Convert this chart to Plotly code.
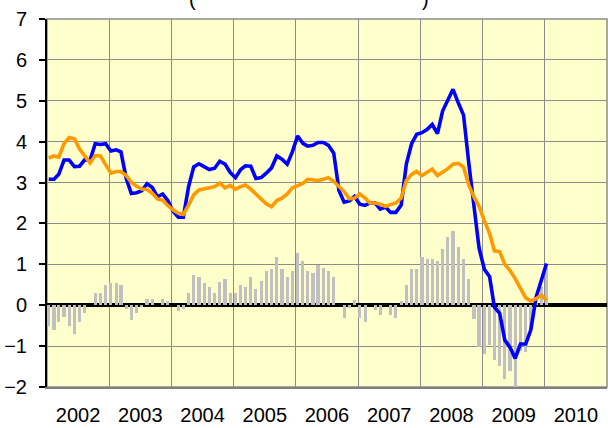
import pandas as pd
import plotly.graph_objects as go

# monthly observations, Jan 2002 .. Jan 2010
months = pd.date_range("2002-01-01", "2010-01-01", freq="MS") + pd.Timedelta(days=10)

blue_series = [
    3.08, 3.08, 3.2, 3.55, 3.55, 3.39, 3.4, 3.56, 3.55, 3.95, 3.93, 3.95,
    3.77, 3.8, 3.75, 3.1, 2.73, 2.75, 2.8, 2.97, 2.88, 2.65, 2.72, 2.56,
    2.3, 2.15, 2.15, 2.9, 3.38, 3.46, 3.39, 3.32, 3.35, 3.52, 3.45, 3.25,
    3.12, 3.32, 3.41, 3.4, 3.1, 3.12, 3.23, 3.36, 3.65, 3.57, 3.45, 3.75,
    4.14, 3.96, 3.89, 3.91, 3.98, 3.98, 3.91, 3.72, 2.8, 2.52, 2.55, 2.66,
    2.47, 2.44, 2.5, 2.5, 2.35, 2.4, 2.27, 2.27, 2.45, 3.45, 3.95, 4.18,
    4.22, 4.3, 4.42, 4.2, 4.75, 5.0, 5.28, 4.95, 4.65, 3.5, 2.4, 1.4,
    0.88, 0.7, -0.05, -0.2, -0.85, -1.03, -1.3, -0.95, -0.95, -0.6, 0.2, 0.62,
    1.02,
]

orange_series = [
    3.6, 3.65, 3.62, 3.95, 4.1, 4.07, 3.82, 3.65, 3.48, 3.66, 3.65, 3.44,
    3.23, 3.27, 3.27, 3.17, 3.01, 2.91, 2.84, 2.83, 2.74, 2.6, 2.57, 2.44,
    2.33, 2.25, 2.22, 2.45, 2.7, 2.82, 2.85, 2.87, 2.9, 2.99, 2.87, 2.93,
    2.84, 2.9, 2.94, 2.84, 2.73, 2.6, 2.48, 2.41, 2.56, 2.62, 2.72, 2.87,
    2.92, 2.98, 3.08, 3.06, 3.05, 3.08, 3.12, 3.03, 2.9, 2.78, 2.6, 2.62,
    2.72, 2.62, 2.5, 2.5, 2.47, 2.42, 2.46, 2.5, 2.62, 3.05, 3.2, 3.27,
    3.17, 3.25, 3.33, 3.17, 3.25, 3.34, 3.45, 3.47, 3.38, 2.95, 2.65, 2.42,
    2.07, 1.75, 1.33, 1.31, 1.0, 0.85, 0.65, 0.4, 0.18, 0.1, 0.16, 0.25,
    0.12,
]

gap_bars = [
    -0.5, -0.6, -0.4, -0.3, -0.5, -0.7, -0.4, -0.2, 0.0, 0.3, 0.3, 0.5,
    0.55, 0.55, 0.5, -0.1, -0.35, -0.2, -0.05, 0.15, 0.15, 0.0, 0.15, 0.1,
    0.0, -0.15, -0.1, 0.3, 0.73, 0.69, 0.55, 0.45, 0.3, 0.57, 0.63, 0.3,
    0.3, 0.49, 0.45, 0.69, 0.39, 0.59, 0.83, 0.88, 1.18, 0.88, 0.69, 0.83,
    1.28, 1.08, 0.83, 0.79, 0.98, 0.92, 0.83, 0.69, 0.0, -0.31, -0.06, 0.14,
    -0.31, -0.42, 0.0, -0.12, -0.23, 0.0, -0.23, -0.31, 0.1, 0.49, 0.89, 0.89,
    1.17, 1.12, 1.12, 1.08, 1.38, 1.68, 1.82, 1.43, 1.12, 0.63, -0.33, -1.02,
    -1.19, -0.98, -1.35, -1.48, -1.8, -1.6, -2.0, -1.11, -1.15, -0.65, 0.05, 0.45,
    0.9,
]

y_ticks = [-2, -1, 0, 1, 2, 3, 4, 5, 6, 7]

FONT = "Arial, 'Liberation Sans', sans-serif"

fig = go.Figure()
fig.add_trace(go.Bar(x=months, y=gap_bars, width=1.6e9,
                     marker=dict(color="#C0C0C0", line=dict(width=0)),
                     showlegend=False, hoverinfo="skip"))
fig.add_trace(go.Scatter(x=months, y=blue_series, mode="lines",
                         line=dict(color="#0000FF", width=3.6),
                         showlegend=False))
fig.add_trace(go.Scatter(x=months, y=orange_series, mode="lines",
                         line=dict(color="#FF9900", width=3.6),
                         showlegend=False))

fig.update_layout(
    width=608, height=428,
    margin=dict(l=47, r=1, t=19, b=41, autoexpand=False),
    paper_bgcolor="white",
    plot_bgcolor="#FFFFCC",
    font=dict(family=FONT, color="black"),
    bargap=0,
    shapes=[dict(type="rect", xref="paper", yref="paper", x0=0, x1=1, y0=0, y1=1,
                 line=dict(color="#8C8C8C", width=1.5), layer="below")],
    annotations=[
        dict(text="(", xref="paper", yref="paper", x=(192 - 47) / 560, y=1,
             yshift=7, showarrow=False, font=dict(size=20, family=FONT),
             xanchor="center", yanchor="bottom"),
        dict(text=")", xref="paper", yref="paper", x=(425 - 47) / 560, y=1,
             yshift=7, showarrow=False, font=dict(size=20, family=FONT),
             xanchor="center", yanchor="bottom"),
    ],
)

fig.update_xaxes(
    type="date",
    range=["2002-01-01", "2011-01-01"],
    tick0="2002-01-01", dtick="M12",
    ticklabelmode="period", tickformat="%Y",
    ticks="", ticklabelstandoff=9,
    showgrid=True, gridcolor="#8C8C8C", gridwidth=1,
    showline=True, linecolor="#808080", linewidth=1.5,
    zeroline=False,
    tickfont=dict(size=20, family=FONT, color="black"),
)
fig.update_yaxes(
    range=[-2, 7], tickvals=y_ticks,
    ticks="outside", ticklen=6, tickwidth=1.5, tickcolor="black",
    showgrid=True, gridcolor="#8C8C8C", gridwidth=1,
    showline=True, linecolor="black", linewidth=2,
    zeroline=True, zerolinecolor="black", zerolinewidth=3.5,
    tickfont=dict(size=20, family=FONT, color="black"),
    ticklabelstandoff=8,
)

fig.write_html("out.html", config={"displayModeBar": False},
               post_script="document.body.style.margin='0';")
